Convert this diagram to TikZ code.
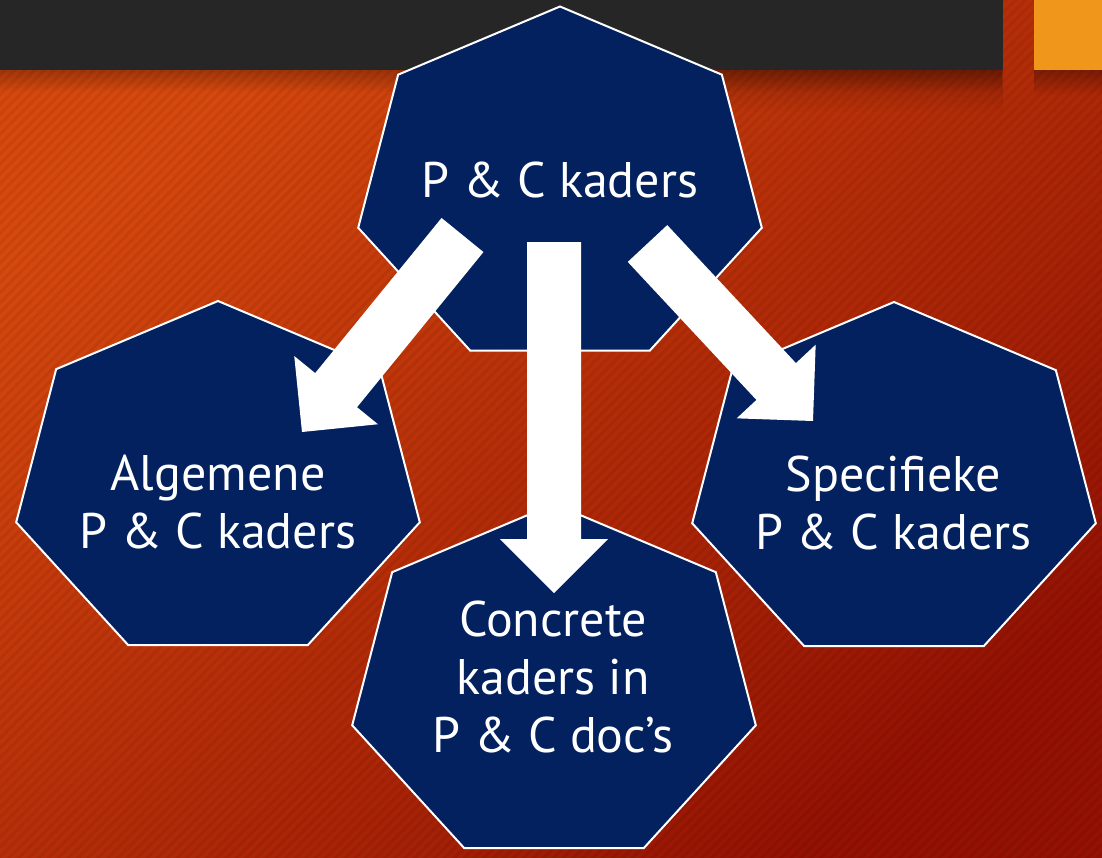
\documentclass[tikz,border=0pt]{standalone}
\usepackage{fontspec}
\setmainfont{PT Sans}
\usetikzlibrary{calc,fadings,patterns.meta}
\definecolor{navyfill}{HTML}{03215F}
\definecolor{bgtop}{HTML}{D6490E}
\definecolor{bgbot}{HTML}{931203}
\definecolor{barc}{HTML}{262626}
\definecolor{sqc}{HTML}{F0961A}
\tikzset{
  heptbox/.style={fill=navyfill, draw=white, line width=2pt, line join=miter},
  blockarrow/.style={fill=white},
  label/.style={text=white, align=center, font=\fontsize{50}{58}\selectfont, inner sep=0pt, anchor=base}
}
\newcommand{\heptagon}[1]{%
  \draw[heptbox] ([shift={(90:207 and 181)}]#1)
    \foreach \k in {1,...,6} { -- ([shift={(90-\k*51.4286:207 and 181)}]#1) } -- cycle;}
% block arrow from named start #1 to named tip #2
\newcommand{\blockarr}[2]{%
  \coordinate (#1b) at ($(#2)!54pt!(#1)$);
  \fill[blockarrow] ($(#1)!27pt!90:(#2)$) -- ($(#1b)!27pt!90:(#2)$)
    -- ($(#1b)!54pt!90:(#2)$) -- (#2) -- ($(#1b)!54pt!-90:(#2)$)
    -- ($(#1b)!27pt!-90:(#2)$) -- ($(#1)!27pt!-90:(#2)$) -- cycle;}
\begin{document}
\begin{tikzpicture}[x=1pt,y=1pt]
\useasboundingbox (0,0) rectangle (1102,-857);
% background
\shade[top color=bgtop, bottom color=bgbot, shading angle=40] (0,0) rectangle (1102,-857);
\fill[pattern={Lines[angle=45,distance=7pt,line width=3pt]}, pattern color=black, opacity=0.06] (0,0) rectangle (1102,-857);
% shadows under bar
\fill[black, opacity=0.25, path fading=south] (0,-70) rectangle (1003,-92);
\fill[black, opacity=0.3, path fading=south] (1034,-70) rectangle (1102,-95);
\fill[black, opacity=0.2, path fading=south] (700,-70) rectangle (1003,-112);
% top bar and square
\fill[barc] (0,0) rectangle (1003,-70);
\fill[sqc] (1034,0) rectangle (1102,-70);
% heptagon centres
\coordinate (hTop) at (560,-187.5);
\coordinate (hAlg) at (218,-482);
\coordinate (hSpec) at (894,-483);
\coordinate (hConc) at (554,-685);
\heptagon{hTop}
\heptagon{hAlg}
\heptagon{hSpec}
\heptagon{hConc}
% labels
\node[label] (tTop) at (560,-197) {P \& C kaders};
\node[label] (tAlg) at (218,-548) {Algemene\\P \& C kaders};
\node[label] (tSpec) at (893.5,-549) {Specifieke\\P \& C kaders};
\node[label] (tConc) at (553,-752) {Concrete\\kaders in\\P \& C doc’s};
% arrows
\coordinate (aLs) at (462.5,-235);
\coordinate (aLt) at (302,-432);
\coordinate (aMs) at (554,-242);
\coordinate (aMt) at (554,-593);
\coordinate (aRs) at (647.5,-243.5);
\coordinate (aRt) at (813,-421);
\blockarr{aLs}{aLt}
\blockarr{aMs}{aMt}
\blockarr{aRs}{aRt}
\end{tikzpicture}
\end{document}
